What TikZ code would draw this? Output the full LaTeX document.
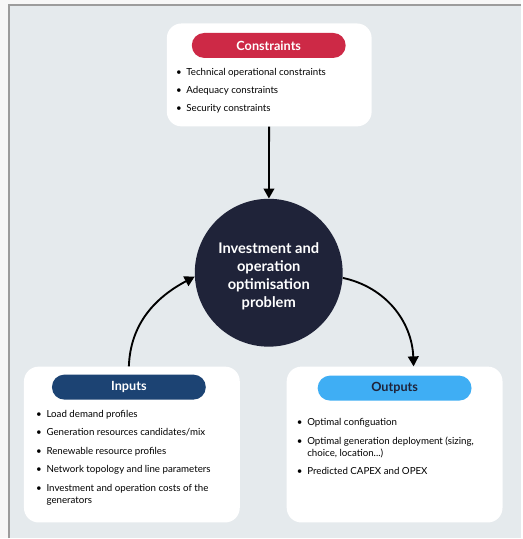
\documentclass[tikz,border=0pt]{standalone}
\usepackage{fontspec}
\setmainfont{Lato}
\usetikzlibrary{arrows.meta,positioning}
\definecolor{paper}{HTML}{F7F7F7}
\definecolor{panelbg}{HTML}{E5EAED}
\definecolor{frame}{HTML}{9C9C9C}
\definecolor{hubnavy}{HTML}{1F2339}
\definecolor{conred}{HTML}{CD2946}
\definecolor{inblue}{HTML}{1C4373}
\definecolor{outblue}{HTML}{3FAEF4}

\begin{document}
\begin{tikzpicture}[x=0.75pt,y=0.75pt,
 card/.style={fill=white,rounded corners=11pt,inner sep=0pt,
 minimum width=#1,minimum height=117pt},
 pill/.style={fill=#1,rounded corners=9.3pt,inner sep=0pt,minimum width=115.5pt,
 minimum height=18.75pt,font=\fontsize{9.5}{11}\selectfont\bfseries},
 hub/.style={circle,fill=hubnavy,minimum size=111pt,inner sep=0pt},
 hubtext/.style={text=white,inner sep=0pt,align=center,
 font=\fontsize{11}{13.6}\selectfont\bfseries},
 items/.style={anchor=north west,inner sep=0pt,font=\fontsize{7.3}{9}\selectfont},
 arr/.style={-{Triangle[length=7.5pt,width=8pt]},line width=1.4pt,draw=black}]
 % backdrop
 \fill[paper] (0,0) rectangle (522,539);
 \fill[panelbg] (9,0) rectangle (522,534);
 \draw[frame,line width=0.8pt] (9,0) -- (9,534) -- (522,534);
 % constraints
 \node[card=153.75pt,minimum height=77.25pt] (constraints) at (269.5,464) {};
 \node[pill=conred,text=white] (conpill) at (269,493.5) {Constraints};
 \node[items] (conlist) at (176,472.4) {\begin{tabular}{@{}l@{\hspace{3.5pt}}l@{}}
 \textbullet & Technical operational constraints\\[4.5pt]
 \textbullet & Adequacy constraints\\[4.5pt]
 \textbullet & Security constraints
 \end{tabular}};
 % problem
 \node[hub] (core) at (269,266) {};
 \node[hubtext] (coretext) at (269,262.5) {Investment and\\operation\\optimisation\\problem};
 % inputs
 \node[card=162pt] (inputs) at (132,94) {};
 \node[pill=inblue,text=white] (inpill) at (129,151.5) {Inputs};
 \node[items] (inlist) at (36,130) {\begin{tabular}{@{}l@{\hspace{3.5pt}}l@{}}
 \textbullet & Load demand profiles\\[4.9pt]
 \textbullet & Generation resources candidates/mix\\[4.9pt]
 \textbullet & Renewable resource profiles\\[4.9pt]
 \textbullet & Network topology and line parameters\\[4.9pt]
 \textbullet & Investment and operation costs of the\\
 & generators
 \end{tabular}};
 % outputs
 \node[card=162pt] (outputs) at (395,94) {};
 \node[pill=outblue,text=hubnavy] (outpill) at (395,150.5) {Outputs};
 \node[items] (outlist) at (297,121.4) {\begin{tabular}{@{}l@{\hspace{3.5pt}}l@{}}
 \textbullet & Optimal configuation\\[4.9pt]
 \textbullet & Optimal generation deployment (sizing,\\
 & choice, location...)\\[4.9pt]
 \textbullet & Predicted CAPEX and OPEX
 \end{tabular}};
 % flows
 \draw[arr] (constraints) -- (core);
 \draw[arr] (inpill |- inputs.north) to[out=88,in=208] (core.183);
 \draw[arr] (core.-4) to[out=-12,in=92] ([xshift=14.25pt]outputs.north);
\end{tikzpicture}
\end{document}
